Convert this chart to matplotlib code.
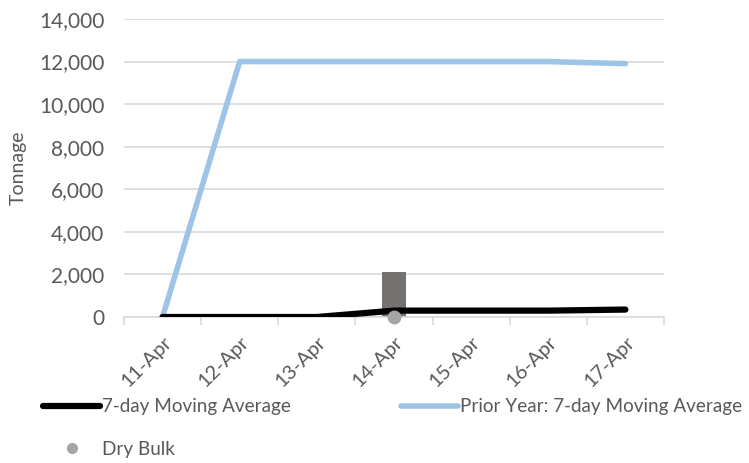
import matplotlib.pyplot as plt
from matplotlib.lines import Line2D
from matplotlib.ticker import FuncFormatter, FixedLocator
import numpy as np

plt.rcParams['font.family'] = ['Lato', 'DejaVu Sans']

dates = ["11-Apr", "12-Apr", "13-Apr", "14-Apr", "15-Apr", "16-Apr", "17-Apr"]
moving_avg = [0, 0, 0, 300, 300, 300, 350]
prior_year_avg = [0, 12000, 12000, 12000, 12000, 12000, 11900]
dry_bulk = [None, None, None, 0, None, None, None]
daily_bar = [0, 0, 0, 2100, 0, 0, 0]

text_col = "#595959"
grid_col = "#D9D9D9"

fig = plt.figure(figsize=(7.49, 4.63), dpi=100)
ax = fig.add_axes([0.1655, 0.3153, 0.7210, 0.6437])

x = np.arange(len(dates))
ax.bar(x, daily_bar, width=0.3, color="#767171", zorder=2)
ax.plot(x, prior_year_avg, color="#9DC3E6", lw=4, solid_capstyle="round", zorder=3)
ax.plot(x, moving_avg, color="black", lw=4.5, solid_capstyle="round", zorder=4)
dx = [i for i, v in enumerate(dry_bulk) if v is not None]
dy = [v for v in dry_bulk if v is not None]
ax.plot(dx, dy, "o", color="#A5A5A5", ms=9, zorder=5, clip_on=False)

ax.set_xlim(-0.5, len(dates) - 0.5)
ax.set_ylim(0, 14000)
ax.set_yticks(np.arange(0, 14001, 2000))
ax.yaxis.set_major_formatter(FuncFormatter(lambda v, p: f"{int(v):,}"))
ax.grid(axis="y", color=grid_col, lw=1.2, zorder=0)
ax.set_axisbelow(True)

for s in ["top", "right", "left"]:
    ax.spines[s].set_visible(False)
ax.spines["bottom"].set_color(grid_col)
ax.spines["bottom"].set_linewidth(1.2)

ax.set_xticks(x)
ax.set_xticklabels(dates, rotation=45, ha="right", rotation_mode="anchor")
ax.xaxis.set_minor_locator(FixedLocator(np.arange(-0.5, len(dates), 1.0)))
ax.tick_params(axis="x", which="major", length=0, pad=12, labelsize=14.5, labelcolor=text_col)
ax.tick_params(axis="x", which="minor", length=6, color=grid_col, width=1.2)
ax.tick_params(axis="y", length=0, labelsize=15, labelcolor=text_col, pad=14)
ax.set_ylabel("Tonnage", fontsize=14, color=text_col, labelpad=9)

handles = [
    Line2D([], [], color="black", lw=4.5, solid_capstyle="round"),
    Line2D([], [], ls="none", marker="o", color="#A5A5A5", ms=7),
    Line2D([], [], color="#9DC3E6", lw=4, solid_capstyle="round"),
]
labels = ["7-day Moving Average", "Dry Bulk", "Prior Year: 7-day Moving Average"]
leg = fig.legend(handles, labels, ncol=2, loc="upper left",
                 bbox_to_anchor=(0.058, 0.14), frameon=False, fontsize=13.6,
                 handlelength=3.0, handletextpad=0.1, columnspacing=5.85,
                 labelspacing=1.35, borderaxespad=0, borderpad=0)
for t in leg.get_texts():
    t.set_color(text_col)

fig.savefig("out.png", dpi=100)
